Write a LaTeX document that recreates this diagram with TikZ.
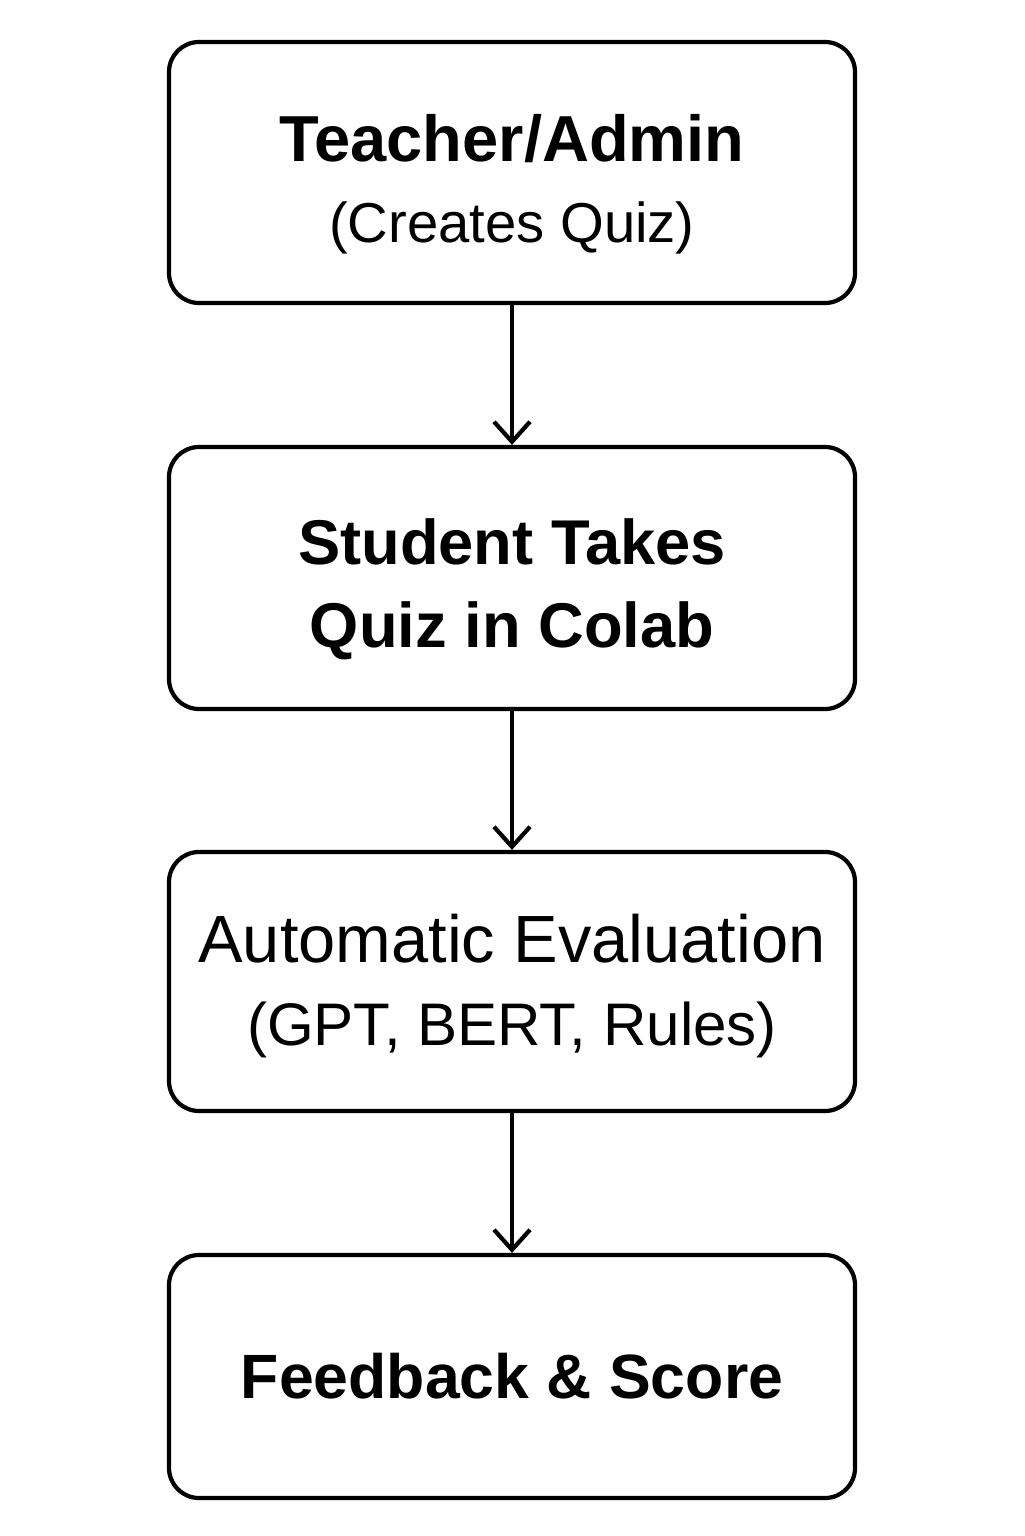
\documentclass[tikz,border=0pt]{standalone}
\usepackage{fontspec}
\setmainfont{Liberation Sans}
\usetikzlibrary{
  arrows.meta,
  positioning
}
\tikzset{
  stagebox/.style={draw, line width=1.2pt, rounded corners=0.3cm,
    minimum width=6.86cm, inner sep=0pt, align=center,
    font=\fontsize{18.5}{23}\selectfont},
  flowarrow/.style={-{Straight Barb[length=0.2cm, width=0.36cm, line width=1.2pt]},
    line width=1.2pt}
}
% invisible strut that pushes a text block down a little
\newcommand{\topgap}[1]{\rule{0pt}{#1}}

\begin{document}
\begin{tikzpicture}
  \useasboundingbox (0, 0) rectangle (10.24, -15.36);

  % the four stages
  \node[stagebox, minimum height=2.61cm] (teacher) at (5.12, -1.725)
  {\topgap{0.70cm}\textbf{Teacher/Admin}\\
    {\fontsize{16}{23}\selectfont (Creates Quiz)}};
  \node[stagebox, minimum height=2.62cm, font=\fontsize{18}{23.5}\selectfont]
  (student) at (5.12, -5.78)
  {\topgap{0.68cm}\textbf{Student Takes}\\ \textbf{Quiz in Colab}};
  \node[stagebox, minimum height=2.59cm, font=\fontsize{19}{23.5}\selectfont]
  (evaluation) at (5.12, -9.815)
  {\topgap{0.57cm}Automatic Evaluation\\
    {\fontsize{17.1}{23.5}\selectfont (GPT, BERT, Rules)}};
  \node[stagebox, minimum height=2.43cm, font=\fontsize{17.8}{23}\selectfont]
  (feedback) at (5.12, -13.765)
  {\textbf{Feedback \& Score}};

  % connectors
  \draw[flowarrow] (teacher.south) -- (student.north);
  \draw[flowarrow] (student.south) -- (evaluation.north);
  \draw[flowarrow] (evaluation.south) -- (feedback.north);
\end{tikzpicture}
\end{document}
